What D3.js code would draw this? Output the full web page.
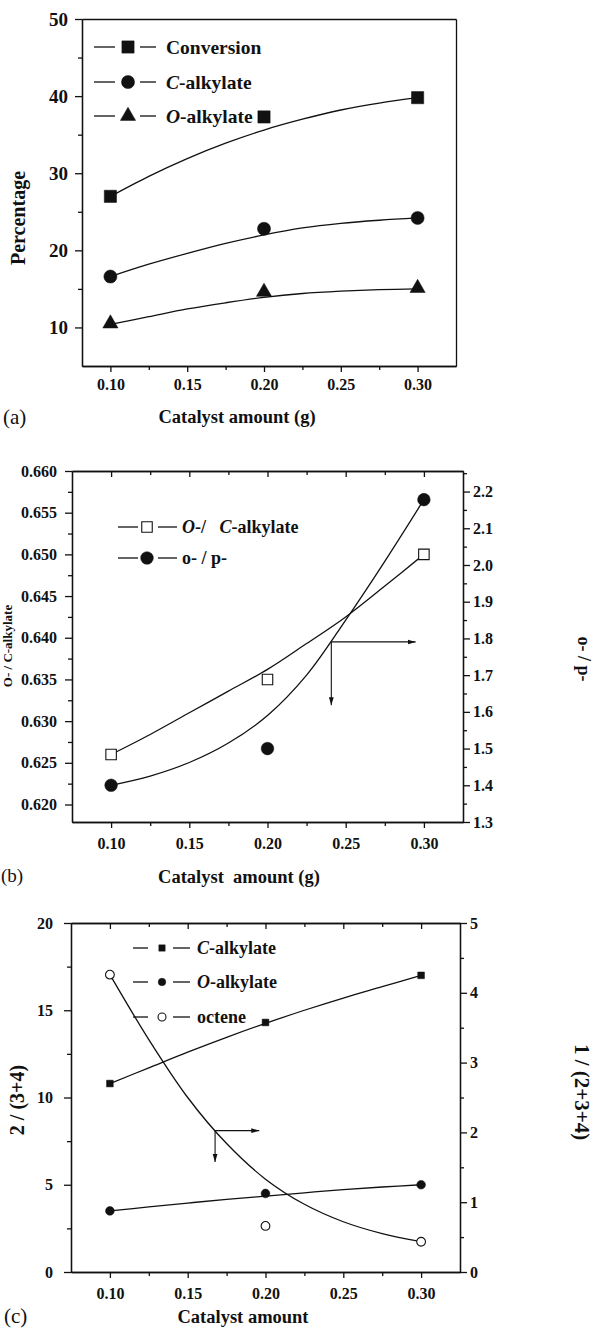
<!DOCTYPE html>
<html><head><meta charset="utf-8">
<script src="https://cdn.jsdelivr.net/npm/d3@7"></script>
<style>
html,body{margin:0;padding:0;background:#fff;}
svg{display:block;font-family:"Liberation Serif","Times New Roman",serif;}
</style></head><body>
<svg id="chart" width="605" height="1335"></svg>
<script>
// ---------- DATA ----------
const catalyst = [0.10, 0.20, 0.30];
const xTicks = [0.10, 0.15, 0.20, 0.25, 0.30];
const xMinorTicks = [0.125, 0.175, 0.225, 0.275];
const fitX = [0.10, 0.125, 0.15, 0.175, 0.20, 0.225, 0.25, 0.275, 0.30];

// panel (a)
const conversionA = [27.0, 37.3, 39.8];
const cAlkylateA = [16.6, 22.8, 24.2];
const oAlkylateA = [10.5, 14.6, 15.1];
const conversionFitA = [27.0, 29.6, 31.9, 33.9, 35.6, 37.0, 38.2, 39.1, 39.8];
const cAlkylateFitA = [16.6, 18.2, 19.6, 20.9, 22.0, 22.9, 23.5, 23.9, 24.2];
const oAlkylateFitA = [10.4, 11.4, 12.4, 13.2, 13.9, 14.4, 14.7, 14.9, 15.0];
const yTicksA = [10, 20, 30, 40, 50];
const yMinorA = [15, 25, 35, 45];

// panel (b)
const ocRatioB = [0.626, 0.635, 0.650];
const opRatioB = [1.40, 1.50, 2.178];
const ocRatioFitB = [0.6260, 0.6284, 0.6310, 0.6336, 0.6362, 0.6393, 0.6425, 0.6462, 0.6500];
const opRatioFitB = [1.400, 1.425, 1.462, 1.515, 1.590, 1.700, 1.850, 2.010, 2.178];
const yTicksB = [0.620, 0.625, 0.630, 0.635, 0.640, 0.645, 0.650, 0.655, 0.660];
const yMinorB = [0.6225, 0.6275, 0.6325, 0.6375, 0.6425, 0.6475, 0.6525, 0.6575];
const y2TicksB = [1.3, 1.4, 1.5, 1.6, 1.7, 1.8, 1.9, 2.0, 2.1, 2.2];
const y2MinorB = [1.35, 1.45, 1.55, 1.65, 1.75, 1.85, 1.95, 2.05, 2.15, 2.25];
const arrowB = {x0: 0.2408, y0: 0.6395, x1: 0.2947, y1: 0.6319};

// panel (c)
const cAlkylateC = [10.8, 14.3, 17.0];
const oAlkylateC = [3.5, 4.5, 5.0];
const octeneC = [4.26, 0.66, 0.434];
const cAlkylateFitC = [10.8, 11.7, 12.6, 13.45, 14.25, 15.0, 15.7, 16.35, 17.0];
const oAlkylateFitC = [3.5, 3.73, 3.95, 4.16, 4.35, 4.54, 4.72, 4.87, 5.0];
const octeneFitC = [4.26, 3.33, 2.50, 1.84, 1.33, 0.97, 0.72, 0.55, 0.434];
const yTicksC = [0, 5, 10, 15, 20];
const yMinorC = [2.5, 7.5, 12.5, 17.5];
const y2TicksC = [0, 1, 2, 3, 4, 5];
const y2MinorC = [0.5, 1.5, 2.5, 3.5, 4.5];
const arrowC = {x0: 0.1676, y0: 8.1, x1: 0.196, y1: 6.3};

// ---------- DRAW ----------
const svg = d3.select("#chart");
const defs = svg.append("defs");
defs.append("marker").attr("id", "arrow").attr("viewBox", "0 0 10 10")
  .attr("refX", 10).attr("refY", 5).attr("markerWidth", 8).attr("markerHeight", 8)
  .attr("markerUnits", "userSpaceOnUse").attr("orient", "auto")
  .append("path").attr("d", "M0,2 L10,5 L0,8 Z").attr("fill", "#111");

const SW = 1.3;
const FONT = '"Liberation Serif","Times New Roman",serif';

function styleAxis(sel, fs) {
  sel.attr("font-family", FONT);
  sel.select(".domain").attr("stroke", "#111").attr("stroke-width", SW);
  sel.selectAll(".tick line").attr("stroke", "#111").attr("stroke-width", SW);
  sel.selectAll("text").attr("fill", "#111").attr("font-size", fs).attr("font-weight", "bold")
    .attr("font-family", FONT);
}

function panel(cfg) {
  const g = svg.append("g");
  const x = d3.scaleLinear().domain(cfg.xDomain).range([cfg.L, cfg.R]);
  const y = d3.scaleLinear().domain(cfg.yDomain).range([cfg.B, cfg.T]);
  const y2 = cfg.y2Domain ? d3.scaleLinear().domain(cfg.y2Domain).range([cfg.B, cfg.T]) : null;

  g.append("g").attr("transform", `translate(0,${cfg.B})`)
    .call(d3.axisBottom(x).tickValues(xMinorTicks).tickSize(4).tickSizeOuter(0).tickFormat(""))
    .call(s => styleAxis(s, 16));
  g.append("g").attr("transform", `translate(0,${cfg.B})`)
    .call(d3.axisBottom(x).tickValues(xTicks).tickSize(6).tickSizeOuter(0).tickPadding(cfg.xPad).tickFormat(d3.format(".2f")))
    .call(s => styleAxis(s, 16));
  g.append("g").attr("transform", `translate(${cfg.L},0)`)
    .call(d3.axisLeft(y).tickValues(cfg.yMinor).tickSize(4).tickSizeOuter(0).tickFormat(""))
    .call(s => styleAxis(s, 16));
  g.append("g").attr("transform", `translate(${cfg.L},0)`)
    .call(d3.axisLeft(y).tickValues(cfg.yTicks).tickSize(7).tickSizeOuter(0).tickPadding(cfg.yPad).tickFormat(cfg.yFmt))
    .call(s => styleAxis(s, cfg.yFs));
  if (cfg.topTicks) {
    g.append("g").attr("transform", `translate(0,${cfg.T})`)
      .call(d3.axisTop(x).tickValues(xMinorTicks).tickSize(-4).tickSizeOuter(0).tickFormat(""))
      .call(s => styleAxis(s, 16));
    g.append("g").attr("transform", `translate(0,${cfg.T})`)
      .call(d3.axisTop(x).tickValues(xTicks).tickSize(-6).tickSizeOuter(0).tickFormat(""))
      .call(s => styleAxis(s, 16));
  } else {
    g.append("g").attr("transform", `translate(0,${cfg.T})`)
      .call(d3.axisTop(x).tickValues([]).tickSizeOuter(0))
      .call(s => styleAxis(s, 16));
  }
  if (y2) {
    g.append("g").attr("transform", `translate(${cfg.R},0)`)
      .call(d3.axisRight(y2).tickValues(cfg.y2Minor).tickSize(4).tickSizeOuter(0).tickFormat(""))
      .call(s => styleAxis(s, 16));
    g.append("g").attr("transform", `translate(${cfg.R},0)`)
      .call(d3.axisRight(y2).tickValues(cfg.y2Ticks).tickSize(7).tickSizeOuter(0).tickPadding(3).tickFormat(cfg.y2Fmt))
      .call(s => styleAxis(s, 16));
  } else {
    g.append("g").attr("transform", `translate(${cfg.R},0)`)
      .call(d3.axisRight(y).tickValues([]).tickSizeOuter(0))
      .call(s => styleAxis(s, 16));
  }
  return {g, x, y, y2};
}

function fitLine(p, scaleY, vals) {
  const line = d3.line().x((d, i) => p.x(fitX[i])).y(d => scaleY(d)).curve(d3.curveCatmullRom.alpha(0.5));
  p.g.append("path").attr("d", line(vals)).attr("fill", "none").attr("stroke", "#111").attr("stroke-width", SW);
}

function points(p, scaleY, vals, type, size, fill) {
  p.g.selectAll(null).data(vals).enter().append("path")
    .attr("transform", (d, i) => `translate(${p.x(catalyst[i])},${scaleY(d)})`)
    .attr("d", d3.symbol().type(type).size(size))
    .attr("fill", fill).attr("stroke", "#111").attr("stroke-width", fill === "#fff" ? 1.1 : 0.5);
}

function legendRow(g, y, x0, x1, mx, x2, x3, tx, type, size, fill, parts, fs) {
  g.append("line").attr("x1", x0).attr("x2", x1).attr("y1", y).attr("y2", y).attr("stroke", "#111").attr("stroke-width", SW);
  g.append("line").attr("x1", x2).attr("x2", x3).attr("y1", y).attr("y2", y).attr("stroke", "#111").attr("stroke-width", SW);
  g.append("path").attr("transform", `translate(${mx},${y})`).attr("d", d3.symbol().type(type).size(size))
    .attr("fill", fill).attr("stroke", "#111").attr("stroke-width", fill === "#fff" ? 1.1 : 0.5);
  const t = g.append("text").attr("x", tx).attr("y", y).attr("dy", "0.35em").attr("font-size", fs)
    .attr("font-weight", "bold").attr("fill", "#111").attr("xml:space", "preserve").style("white-space", "pre");
  parts.forEach(pt => t.append("tspan").attr("font-style", pt.i ? "italic" : "normal").text(pt.t));
}

function label(txt, x, y, fs, rot, weight, anchor) {
  svg.append("text").attr("transform", `translate(${x},${y}) rotate(${rot || 0})`)
    .attr("text-anchor", anchor || "middle").attr("font-size", fs).attr("font-weight", weight || "bold")
    .attr("fill", "#111").style("white-space", "pre").text(txt);
}

function arrows(p, scaleY, a) {
  const vx = p.x(a.x0), vy = scaleY(a.y0);
  p.g.append("line").attr("x1", vx).attr("y1", vy).attr("x2", p.x(a.x1)).attr("y2", vy)
    .attr("stroke", "#111").attr("stroke-width", 1.1).attr("marker-end", "url(#arrow)");
  p.g.append("line").attr("x1", vx).attr("y1", vy).attr("x2", vx).attr("y2", scaleY(a.y1))
    .attr("stroke", "#111").attr("stroke-width", 1.1).attr("marker-end", "url(#arrow)");
}

// ----- panel (a)
const pa = panel({xDomain: [0.0815, 0.325], yDomain: [5, 50], L: 82, R: 456, T: 19, B: 366,
  yTicks: yTicksA, yMinor: yMinorA, yFmt: d3.format("d"), yFs: 19, yPad: 7, xPad: 7, topTicks: false});
fitLine(pa, pa.y, conversionFitA);
fitLine(pa, pa.y, cAlkylateFitA);
fitLine(pa, pa.y, oAlkylateFitA);
points(pa, pa.y, conversionA, d3.symbolSquare, 150, "#111");
points(pa, pa.y, cAlkylateA, d3.symbolCircle, 135, "#111");
points(pa, pa.y, oAlkylateA, d3.symbolTriangle, 100, "#111");
legendRow(svg, 47, 94, 115, 128, 140, 156, 166, d3.symbolSquare, 150, "#111", [{t: "Conversion"}], 19.5);
legendRow(svg, 82, 94, 115, 128, 140, 156, 166, d3.symbolCircle, 135, "#111", [{t: "C", i: true}, {t: "-alkylate"}], 19.5);
legendRow(svg, 116, 94, 115, 128, 140, 156, 166, d3.symbolTriangle, 100, "#111", [{t: "O", i: true}, {t: "-alkylate"}], 19.5);
label("Percentage", 25, 218, 20, -90);
label("Catalyst amount (g)", 237, 423, 18.5, 0);
label("(a)", 3, 424, 21, 0, "normal", "start");

// ----- panel (b)
const pb = panel({xDomain: [0.075, 0.325], yDomain: [0.6179, 0.660], y2Domain: [1.3, 2.256], L: 72, R: 463, T: 471, B: 822,
  yTicks: yTicksB, yMinor: yMinorB, yFmt: d3.format(".3f"), yFs: 16, yPad: 8, xPad: 10, topTicks: true,
  y2Ticks: y2TicksB, y2Minor: y2MinorB, y2Fmt: d3.format(".1f")});
fitLine(pb, pb.y, ocRatioFitB);
fitLine(pb, pb.y2, opRatioFitB);
points(pb, pb.y, ocRatioB, d3.symbolSquare, 110, "#fff");
points(pb, pb.y2, opRatioB, d3.symbolCircle, 125, "#111");
arrows(pb, pb.y, arrowB);
legendRow(svg, 527, 118, 138, 147, 158, 177, 182, d3.symbolSquare, 110, "#fff",
  [{t: "O", i: true}, {t: "-/   "}, {t: "C", i: true}, {t: "-alkylate"}], 18);
legendRow(svg, 558, 118, 138, 147, 158, 177, 182, d3.symbolCircle, 125, "#111", [{t: "o- / p-"}], 18);
label("O- / C-alkylate", 12, 646, 13, -90);
label("o- / p-", 578, 659, 18, 90);
label("Catalyst  amount (g)", 239, 883, 18.5, 0);
label("(b)", 1, 882, 19, 0, "normal", "start");

// ----- panel (c)
const pc = panel({xDomain: [0.075, 0.325], yDomain: [0, 20], y2Domain: [0, 5], L: 71, R: 460, T: 923, B: 1272,
  yTicks: yTicksC, yMinor: yMinorC, yFmt: d3.format("d"), yFs: 16, yPad: 11, xPad: 10, topTicks: true,
  y2Ticks: y2TicksC, y2Minor: y2MinorC, y2Fmt: d3.format("d")});
fitLine(pc, pc.y, cAlkylateFitC);
fitLine(pc, pc.y, oAlkylateFitC);
fitLine(pc, pc.y2, octeneFitC);
points(pc, pc.y, cAlkylateC, d3.symbolSquare, 45, "#111");
points(pc, pc.y, oAlkylateC, d3.symbolCircle, 60, "#111");
points(pc, pc.y2, octeneC, d3.symbolCircle, 60, "#fff");
arrows(pc, pc.y, arrowC);
legendRow(svg, 948, 133, 148, 162, 173, 190, 197, d3.symbolSquare, 40, "#111", [{t: "C", i: true}, {t: "-alkylate"}], 18);
legendRow(svg, 982, 133, 148, 162, 173, 190, 197, d3.symbolCircle, 45, "#111", [{t: "O", i: true}, {t: "-alkylate"}], 18);
legendRow(svg, 1017, 133, 148, 162, 173, 190, 197, d3.symbolCircle, 50, "#fff", [{t: "octene"}], 18);
label("2 / (3+4)", 24, 1100, 20, -90);
label("1 / (2+3+4)", 575, 1092, 21, 90);
label("Catalyst amount", 243, 1323, 18.5, 0);
label("(c)", 4, 1323, 21, 0, "normal", "start");
</script>
</body></html>
